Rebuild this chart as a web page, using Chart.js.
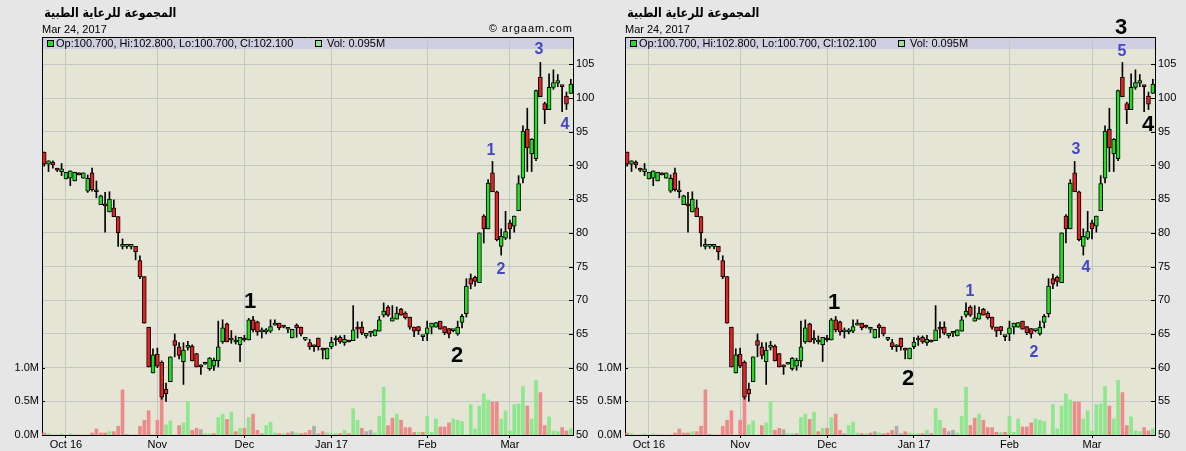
<!DOCTYPE html>
<html lang="ar">
<head>
<meta charset="UTF-8">
<title>المجموعة للرعاية الطبية</title>
<script src="https://cdn.jsdelivr.net/npm/chart.js@4.4.1/dist/chart.umd.min.js"></script>
<style>
    body {
        margin: 0;
        width: 1186px;
        height: 451px;
        position: relative;
        overflow: hidden;
        background: #e6e6e6;
        font-family: "Liberation Sans", Arial, sans-serif;
    }
    canvas { position: absolute; top: 0; }
    #leftChart { left: 0; }
    #rightChart { left: 583px; }
    .txt { position: absolute; white-space: nowrap; color: #000; }
    .title { font-family: "DejaVu Sans", sans-serif; font-weight: bold; font-size: 13px; line-height: 16px; top: 5px; direction: rtl; transform: scaleX(0.85); transform-origin: right center; }
    .date { font-size: 11px; line-height: 13px; top: 23px; }
    .leg { font-size: 11px; line-height: 13px; top: 37px; }
    .sq { position: absolute; top: 40px; width: 5px; height: 5px; border: 1px solid #000; }
    .copy { font-size: 11px; line-height: 13px; top: 22px; letter-spacing: 1px; }
    .wave { position: absolute; font-weight: bold; line-height: 1; transform: translate(-50%, -50%); font-family: "Liberation Sans", Arial, sans-serif; }
    .blue { color: #4646c8; font-size: 16px; }
    .black { color: #000; font-size: 22px; }
</style>
</head>
<body>
<canvas id="leftChart" width="600" height="451"></canvas>
<canvas id="rightChart" width="603" height="451"></canvas>

<!-- left panel texts -->
<div class="txt title" style="right:1010px">المجموعة للرعاية الطبية</div>
<div class="txt date" style="left:42px">Mar 24, 2017</div>
<div class="sq" style="left:47px;background:#22dd22"></div>
<div class="txt leg" style="left:56px">Op:100.700, Hi:102.800, Lo:100.700, Cl:102.100</div>
<div class="sq" style="left:315px;background:#8ee68e"></div>
<div class="txt leg" style="left:327px">Vol: 0.095M</div>
<div class="txt copy" style="right:613px">© argaam.com</div>

<!-- right panel texts -->
<div class="txt title" style="right:427px">المجموعة للرعاية الطبية</div>
<div class="txt date" style="left:625px">Mar 24, 2017</div>
<div class="sq" style="left:630px;background:#22dd22"></div>
<div class="txt leg" style="left:639px">Op:100.700, Hi:102.800, Lo:100.700, Cl:102.100</div>
<div class="sq" style="left:898px;background:#8ee68e"></div>
<div class="txt leg" style="left:910px">Vol: 0.095M</div>

<!-- wave counts -->
<div class="wave black" style="left:250px;top:301px">1</div>
<div class="wave black" style="left:457px;top:355px">2</div>
<div class="wave blue" style="left:491px;top:150px">1</div>
<div class="wave blue" style="left:501px;top:269px">2</div>
<div class="wave blue" style="left:539px;top:49px">3</div>
<div class="wave blue" style="left:565px;top:124px">4</div>

<div class="wave black" style="left:834px;top:302px">1</div>
<div class="wave black" style="left:908px;top:378px">2</div>
<div class="wave blue" style="left:970px;top:291px">1</div>
<div class="wave blue" style="left:1034px;top:352px">2</div>
<div class="wave blue" style="left:1076px;top:149px">3</div>
<div class="wave blue" style="left:1086px;top:267px">4</div>
<div class="wave blue" style="left:1122px;top:51px">5</div>
<div class="wave black" style="left:1121px;top:27px">3</div>
<div class="wave black" style="left:1148px;top:124px">4</div>

<script>
    // daily candles, index 0 = first session shown
    const opens = [92.0, 90.2, 90.5, 89.6, 89.1, 88.0, 88.1, 87.7, 88.9, 88.1,
        86.2, 88.9, 86.1, 84.2, 84.3, 83.1, 83.7, 82.4, 78.0, 78.0,
        78.0, 78.0, 75.9, 73.5, 66.0, 59.2, 62.0, 60.8, 56.8, 57.9,
        64.0, 63.1, 60.9, 63.0, 63.2, 62.1, 60.4, 60.5, 59.8, 60.2,
        61.0, 63.8, 66.5, 64.1, 63.8, 63.4, 64.4, 64.1, 67.1, 66.8,
        65.3, 65.3, 65.4, 66.3, 66.6, 66.3, 65.7, 64.4, 66.3, 66.0,
        64.2, 63.7, 63.1, 64.4, 62.9, 61.3, 63.1, 64.1, 64.5, 63.7,
        64.1, 64.0, 66.0, 66.0, 64.7, 65.1, 64.7, 65.4, 67.8, 69.0,
        66.9, 67.2, 68.7, 68.1, 67.5, 66.0, 66.1, 64.6, 65.0, 66.0,
        66.0, 66.9, 66.1, 65.8, 65.5, 65.0, 66.7, 68.0, 73.2, 73.4,
        72.6, 82.5, 80.6, 88.9, 86.1, 78.0, 79.2, 81.5, 81.0, 83.3,
        88.1, 95.4, 91.7, 91.0, 103.1, 99.2, 98.3, 101.6, 102.2, 101.8,
        100.3, 100.7];
    const highs = [92.0, 90.7, 90.7, 89.6, 90.3, 89.0, 89.2, 89.0, 88.9, 88.9,
        88.6, 89.6, 87.7, 85.6, 86.0, 86.1, 84.9, 82.4, 79.1, 78.0,
        78.0, 78.0, 76.6, 73.5, 66.0, 62.8, 62.9, 61.0, 57.7, 61.6,
        65.0, 63.7, 63.7, 63.9, 63.4, 62.1, 60.4, 60.8, 61.5, 61.4,
        66.9, 67.1, 66.6, 65.5, 64.7, 64.5, 64.8, 67.3, 67.6, 66.9,
        65.9, 65.8, 67.1, 67.1, 66.6, 66.3, 65.8, 65.7, 66.5, 66.0,
        64.2, 64.2, 63.4, 64.4, 62.9, 62.9, 64.5, 64.7, 64.7, 64.8,
        64.1, 69.2, 66.8, 66.8, 65.1, 65.4, 65.6, 67.6, 69.6, 69.2,
        69.2, 69.0, 68.8, 68.3, 67.5, 66.0, 66.1, 64.8, 66.9, 66.6,
        66.7, 66.9, 66.1, 65.8, 65.6, 66.9, 67.9, 73.2, 73.9, 73.6,
        80.0, 82.7, 87.9, 90.6, 86.2, 80.6, 83.2, 81.9, 82.5, 88.5,
        95.9, 98.5, 94.0, 101.2, 105.3, 99.4, 103.6, 104.2, 103.5, 101.8,
        100.9, 102.8];
    const lows = [89.9, 89.1, 89.6, 89.1, 88.5, 88.0, 87.0, 87.7, 88.6, 88.1,
        86.0, 86.2, 85.2, 84.2, 80.1, 83.1, 82.4, 78.0, 77.6, 77.7,
        77.6, 76.0, 73.2, 66.6, 60.1, 59.2, 60.0, 55.3, 55.0, 57.9,
        61.6, 61.3, 57.5, 62.6, 61.0, 60.1, 59.0, 60.5, 59.6, 59.6,
        60.1, 63.6, 63.8, 63.6, 63.5, 60.9, 63.9, 64.1, 65.3, 64.8,
        64.4, 65.0, 65.2, 66.3, 65.6, 65.9, 65.2, 64.4, 64.5, 64.7,
        64.0, 62.7, 62.4, 62.6, 61.3, 61.3, 62.8, 63.3, 63.6, 63.3,
        63.8, 64.0, 64.4, 64.9, 64.4, 64.6, 64.7, 65.4, 67.5, 67.6,
        66.9, 67.2, 67.8, 67.2, 65.7, 64.6, 64.9, 64.0, 64.0, 65.0,
        66.0, 65.7, 64.9, 64.4, 65.3, 64.8, 65.9, 67.5, 71.7, 72.1,
        72.6, 78.5, 80.6, 86.1, 78.8, 76.7, 79.0, 79.1, 80.1, 83.3,
        87.4, 89.1, 89.1, 90.7, 100.2, 96.2, 98.3, 101.3, 101.7, 98.0,
        98.3, 100.7];
    const closes = [90.2, 90.7, 90.1, 89.3, 89.5, 89.0, 89.2, 89.0, 88.6, 88.9,
        88.1, 86.4, 86.1, 85.5, 84.0, 85.0, 82.4, 80.0, 78.0, 78.0,
        78.0, 77.2, 73.5, 66.6, 60.1, 61.9, 60.2, 55.6, 56.1, 61.6,
        63.3, 61.8, 62.6, 63.0, 61.0, 60.1, 60.1, 60.8, 61.4, 61.1,
        63.1, 65.9, 63.8, 64.1, 63.8, 64.5, 64.1, 67.1, 65.6, 65.3,
        65.3, 65.6, 66.1, 66.6, 65.9, 66.0, 65.7, 65.7, 65.9, 65.0,
        64.2, 63.1, 63.1, 63.1, 62.6, 62.9, 63.8, 64.1, 63.8, 64.2,
        63.8, 65.6, 65.7, 65.1, 65.1, 65.1, 65.6, 67.1, 68.4, 67.8,
        67.4, 68.1, 67.8, 67.4, 66.0, 65.4, 65.5, 64.6, 65.9, 66.6,
        66.7, 65.7, 65.2, 65.0, 65.5, 66.0, 67.6, 72.1, 72.4, 72.8,
        80.0, 80.6, 87.4, 86.1, 79.0, 79.5, 80.2, 80.6, 82.5, 87.3,
        95.1, 92.6, 93.9, 101.1, 100.2, 98.3, 101.6, 102.3, 102.6, 101.7,
        99.1, 102.1];
    // volume in millions
    const volumes = [0.03, 0.02, 0, 0, 0.02, 0, 0.02, 0, 0, 0,
        0, 0.03, 0.09, 0.03, 0.03, 0.05, 0.05, 0.13, 0.67, 0.01,
        0, 0, 0.13, 0.22, 0.36, 0, 0.22, 0.56, 0.15, 0.21,
        0, 0.14, 0.18, 0.50, 0.07, 0.10, 0.08, 0.02, 0.02, 0.02,
        0.26, 0.31, 0.23, 0.34, 0.05, 0.10, 0.10, 0.26, 0.31, 0.07,
        0.02, 0.14, 0.19, 0.03, 0.02, 0.02, 0.03, 0.05, 0.03, 0.02,
        0.03, 0.07, 0.13, 0.02, 0.05, 0.03, 0.02, 0.02, 0.02, 0.07,
        0.02, 0.39, 0.22, 0.10, 0.05, 0.07, 0.03, 0.28, 0.71, 0.14,
        0.25, 0.31, 0.22, 0.11, 0.11, 0.04, 0.04, 0.04, 0.28, 0.04,
        0.24, 0.12, 0.12, 0.18, 0.24, 0.22, 0.20, 0, 0.45, 0.09,
        0.43, 0.61, 0.52, 0.49, 0.49, 0.24, 0.36, 0.06, 0.45, 0.46,
        0.72, 0.43, 0.24, 0.81, 0.63, 0.14, 0.27, 0.06, 0.05, 0.11,
        0.06, 0.095];

    const monthTicks = [5, 26, 46, 66, 88, 107];
    const monthLabels = ['Oct 16', 'Nov', 'Dec', 'Jan 17', 'Feb', 'Mar'];
    const priceTicks = [50, 55, 60, 65, 70, 75, 80, 85, 90, 95, 100, 105];
    const volTicks = [0, 0.5, 1.0];

    const UP = '#22dd22', DOWN = '#e52222';
    const VOL_UP = '#8ee68e', VOL_DOWN = '#ee8a8a', VOL_FLAT = '#adadad';
    const GRID = '#c6c6c6';
    const FONT = { family: '"Liberation Sans", Arial, sans-serif', size: 11 };

    function volColor(i) {
        const prev = i > 0 ? closes[i - 1] : opens[i];
        if (closes[i] > prev) return VOL_UP;
        if (closes[i] < prev) return VOL_DOWN;
        return VOL_FLAT;
    }

    // plot background, legend band, top frame and inward axis ticks
    const panelPlugin = {
        id: 'panel',
        beforeDraw(chart) {
            const { ctx, chartArea: a } = chart;
            ctx.save();
            ctx.fillStyle = '#e5e5d6';
            ctx.fillRect(a.left, a.top, a.right - a.left, a.bottom - a.top);
            ctx.fillStyle = '#cfcfe1';
            ctx.fillRect(a.left, a.top, a.right - a.left, 12);
            ctx.restore();
        },
        afterDraw(chart) {
            const { ctx, chartArea: a, scales } = chart;
            ctx.save();
            ctx.strokeStyle = '#000';
            ctx.lineWidth = 1;
            ctx.beginPath();
            const t = Math.round(a.top) + 0.5;
            ctx.moveTo(a.left, t);
            ctx.lineTo(a.right, t);
            priceTicks.forEach(v => {
                const y = Math.round(scales.y.getPixelForValue(v)) + 0.5;
                ctx.moveTo(a.right - 4, y);
                ctx.lineTo(a.right, y);
            });
            volTicks.forEach(v => {
                const y = Math.round(scales.yv.getPixelForValue(v)) + 0.5;
                ctx.moveTo(a.left, y);
                ctx.lineTo(a.left + 3, y);
            });
            ctx.stroke();
            ctx.restore();
        }
    };

    function makeChart(id, leftW, rightW) {
        const ctx = document.getElementById(id).getContext('2d');
        return new Chart(ctx, {
            type: 'bar',
            data: {
                datasets: [
                    {
                        // candle bodies
                        data: opens.map((o, i) => ({ x: i, y: [o, closes[i]] })),
                        backgroundColor: opens.map((o, i) => closes[i] >= o ? UP : DOWN),
                        borderColor: '#000',
                        borderWidth: 1,
                        borderSkipped: false,
                        barThickness: 4,
                        minBarLength: 2,
                        grouped: false,
                        yAxisID: 'y',
                        order: 1
                    },
                    {
                        // wicks
                        data: lows.map((l, i) => ({ x: i, y: [l, highs[i]] })),
                        backgroundColor: '#000',
                        barThickness: 1,
                        grouped: false,
                        yAxisID: 'y',
                        order: 2
                    },
                    {
                        // volume
                        data: volumes.map((v, i) => ({ x: i, y: v })),
                        backgroundColor: volumes.map((v, i) => volColor(i)),
                        barThickness: 3,
                        grouped: false,
                        yAxisID: 'yv',
                        order: 3
                    }
                ]
            },
            options: {
                responsive: false,
                animation: false,
                events: [],
                layout: { padding: { top: 37, left: 0, right: 0, bottom: 0 } },
                plugins: { legend: { display: false }, tooltip: { enabled: false } },
                scales: {
                    x: {
                        type: 'linear',
                        offset: false,
                        min: -0.5,
                        max: 121.5,
                        afterBuildTicks: s => { s.ticks = monthTicks.map(v => ({ value: v })); },
                        afterFit: s => { s.height = 16; },
                        ticks: {
                            callback: v => monthLabels[monthTicks.indexOf(v)],
                            color: '#000', font: FONT, padding: 0,
                            maxRotation: 0, autoSkip: false
                        },
                        grid: { offset: false, color: GRID, tickColor: '#000', tickLength: 3 },
                        border: { color: '#000' }
                    },
                    y: {
                        position: 'right',
                        min: 50,
                        max: 109.07,
                        afterBuildTicks: s => { s.ticks = priceTicks.map(v => ({ value: v })); },
                        afterFit: s => { s.width = rightW; },
                        ticks: { color: '#000', font: FONT, padding: 3 },
                        grid: { color: GRID, drawTicks: false, tickLength: 0 },
                        border: { color: '#000' }
                    },
                    yv: {
                        position: 'left',
                        min: 0,
                        max: 5.905,
                        afterBuildTicks: s => { s.ticks = volTicks.map(v => ({ value: v })); },
                        afterFit: s => { s.width = leftW; },
                        ticks: { color: '#000', font: FONT, padding: 3, callback: v => v.toFixed(1) + 'M' },
                        grid: { display: false, drawTicks: false, tickLength: 0 },
                        border: { color: '#000' }
                    }
                }
            },
            plugins: [panelPlugin]
        });
    }

    makeChart('leftChart', 42, 27);
    makeChart('rightChart', 42, 31);
</script>
</body>
</html>
